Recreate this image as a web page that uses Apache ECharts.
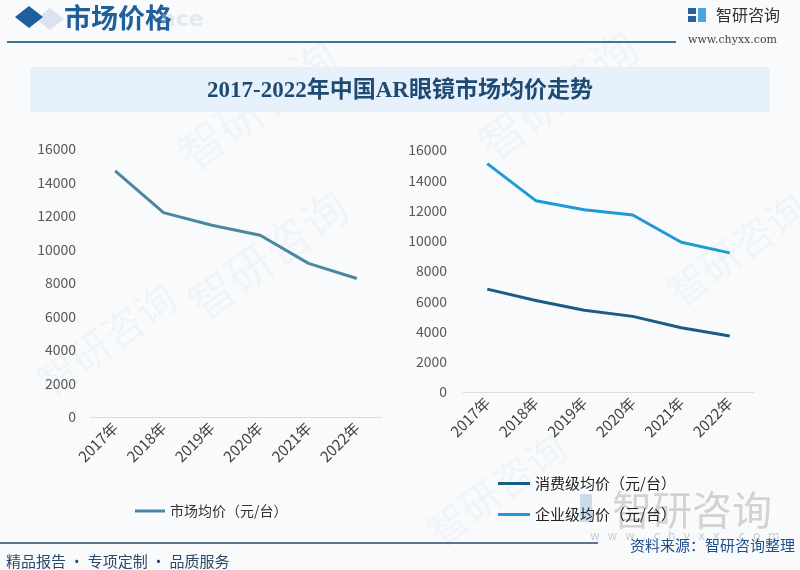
<!DOCTYPE html>
<html>
<head>
<meta charset="utf-8">
<script src="https://cdn.jsdelivr.net/npm/echarts@6/dist/echarts.min.js"></script>
<style>
  html, body { margin: 0; padding: 0; background: #f9fafb; }
  #chart { width: 800px; height: 570px; }
</style>
</head>
<body>
<div id="chart"></div>
<script>
// data
const years = ['2017年', '2018年', '2019年', '2020年', '2021年', '2022年'];
const marketAvg = [14700, 12200, 11450, 10850, 9170, 8270];
const consumerAvg = [6800, 6050, 5400, 5000, 4250, 3700];
const enterpriseAvg = [15100, 12650, 12050, 11700, 9900, 9200];
const yTicks = { min: 0, max: 16000, interval: 2000 };

const cnFont = '"Noto Sans CJK SC", "Noto Sans", sans-serif';
const chart = echarts.init(document.getElementById('chart'));

function wm(x, y, size) {
    return {
        type: 'text', x: x, y: y, rotation: Math.PI / 5, silent: true, z: 0,
        style: { text: '智研咨询', fill: 'rgba(170,185,205,0.09)', font: size + 'px ' + cnFont }
    };
}

const xAxisBase = {
    type: 'category',
    data: years,
    axisLine: { lineStyle: { color: '#dcdcdc', width: 1 } },
    axisTick: { show: false },
    axisLabel: { rotate: 45, fontSize: 15, color: '#404040', margin: 8, fontFamily: cnFont, interval: 0 }
};
const yAxisBase = {
    type: 'value',
    min: yTicks.min,
    max: yTicks.max,
    interval: yTicks.interval,
    axisLine: { show: false },
    axisTick: { show: false },
    splitLine: { show: false },
    axisLabel: { fontSize: 14, color: '#595959', fontFamily: cnFont, formatter: v => String(v) }
};

chart.setOption({
    backgroundColor: '#f9fafb',
    animation: false,
    graphic: [
        // watermarks
        wm(170, 140, 46), wm(180, 290, 46), wm(470, 130, 46), wm(420, 520, 40),
        wm(660, 280, 40), wm(30, 370, 40),
        // header
        {
            type: 'polygon', silent: true,
            shape: { points: [[36, 19], [50, 8], [64, 19], [50, 30]] },
            style: { fill: 'rgba(150,180,210,0.3)' }
        },
        {
            type: 'polygon', silent: true,
            shape: { points: [[15, 17], [29, 6], [43, 17], [29, 28]] },
            style: { fill: '#1f5f9e' }
        },
        {
            type: 'text', x: 64, y: 18, silent: true,
            style: { text: '市场价格', fill: '#1f5f9a', font: 'bold 27px ' + cnFont, verticalAlign: 'middle' }
        },
        {
            type: 'text', x: 160, y: 20, silent: true,
            style: { text: 'nce', fill: 'rgba(190,205,220,0.4)', font: 'bold 22px "DejaVu Sans"', verticalAlign: 'middle' }
        },
        {
            type: 'line', silent: true,
            shape: { x1: 7, y1: 42, x2: 676, y2: 42 },
            style: { stroke: '#3d7891', lineWidth: 2 }
        },
        // logo
        { type: 'rect', shape: { x: 688, y: 8, width: 8, height: 6 }, style: { fill: '#2a5fa5' } },
        { type: 'rect', shape: { x: 688, y: 16, width: 8, height: 6 }, style: { fill: '#2a5fa5' } },
        { type: 'rect', shape: { x: 698, y: 8, width: 8, height: 14 }, style: { fill: '#4ba3e0' } },
        {
            type: 'text', x: 716, y: 15, silent: true,
            style: { text: '智研咨询', fill: '#333', font: '16px ' + cnFont, verticalAlign: 'middle' }
        },
        {
            type: 'text', x: 688, y: 40, silent: true,
            style: { text: 'www.chyxx.com', fill: '#444', font: '11px "DejaVu Serif"', verticalAlign: 'middle' }
        },
        // title banner
        {
            type: 'rect', silent: true,
            shape: { x: 30, y: 67, width: 740, height: 45 },
            style: { fill: '#e6f1fb' }
        },
        {
            type: 'text', x: 400, y: 91, silent: true,
            style: {
                text: '2017-2022年中国AR眼镜市场均价走势', fill: '#1f4a73',
                font: 'bold 23px "Liberation Serif", "Noto Sans CJK SC"', align: 'center', verticalAlign: 'middle'
            }
        },
        // bottom-right watermark
        {
            type: 'text', x: 612, y: 510, silent: true,
            style: { text: '智研咨询', fill: 'rgba(150,150,150,0.4)', font: '40px ' + cnFont, verticalAlign: 'middle' }
        },
        { type: 'rect', shape: { x: 580, y: 494, width: 12, height: 28 }, style: { fill: 'rgba(120,160,210,0.35)' } },
        {
            type: 'text', x: 590, y: 537, silent: true,
            style: { text: 'w  w  w  .  c  h  y  x  x  .  c  o  m', fill: 'rgba(150,150,150,0.45)', font: '12px "DejaVu Sans"', verticalAlign: 'middle' }
        },
        // footer
        {
            type: 'line', silent: true,
            shape: { x1: 0, y1: 543, x2: 598, y2: 543 },
            style: { stroke: '#1f4a73', lineWidth: 1.5 }
        },
        {
            type: 'text', x: 6, y: 561, silent: true,
            style: { text: '精品报告 · 专项定制 · 品质服务', fill: '#2a4a6b', font: '15px ' + cnFont, verticalAlign: 'middle' }
        },
        {
            type: 'text', x: 795, y: 545, silent: true,
            style: { text: '资料来源：智研咨询整理', fill: '#1f4f8f', font: '15px ' + cnFont, align: 'right', verticalAlign: 'middle' }
        }
    ],
    grid: [
        { left: 91, right: 419, top: 149, bottom: 153 },
        { left: 463, right: 46, top: 150, bottom: 178 }
    ],
    xAxis: [
        Object.assign({ gridIndex: 0 }, xAxisBase),
        Object.assign({ gridIndex: 1 }, xAxisBase)
    ],
    yAxis: [
        Object.assign({ gridIndex: 0 }, yAxisBase, { axisLabel: Object.assign({}, yAxisBase.axisLabel, { margin: 15 }) }),
        Object.assign({ gridIndex: 1 }, yAxisBase, { axisLabel: Object.assign({}, yAxisBase.axisLabel, { margin: 16 }) })
    ],
    legend: [
        {
            data: ['市场均价（元/台）'],
            left: 130, top: 499,
            icon: 'rect', itemWidth: 30, itemHeight: 3,
            textStyle: { fontSize: 14, color: '#333', fontFamily: cnFont }
        },
        {
            data: ['消费级均价（元/台）', '企业级均价（元/台）'],
            orient: 'vertical',
            left: 493, top: 471, itemGap: 16,
            icon: 'rect', itemWidth: 32, itemHeight: 3,
            textStyle: { fontSize: 15, color: '#222', fontFamily: cnFont }
        }
    ],
    series: [
        {
            name: '市场均价（元/台）', type: 'line', xAxisIndex: 0, yAxisIndex: 0,
            data: marketAvg, symbol: 'none',
            lineStyle: { width: 3, color: '#4a88a2' }, itemStyle: { color: '#4a88a2' }
        },
        {
            name: '消费级均价（元/台）', type: 'line', xAxisIndex: 1, yAxisIndex: 1,
            data: consumerAvg, symbol: 'none',
            lineStyle: { width: 3, color: '#1a5d83' }, itemStyle: { color: '#1a5d83' }
        },
        {
            name: '企业级均价（元/台）', type: 'line', xAxisIndex: 1, yAxisIndex: 1,
            data: enterpriseAvg, symbol: 'none',
            lineStyle: { width: 3, color: '#1e9ad6' }, itemStyle: { color: '#1e9ad6' }
        }
    ]
});
</script>
</body>
</html>
